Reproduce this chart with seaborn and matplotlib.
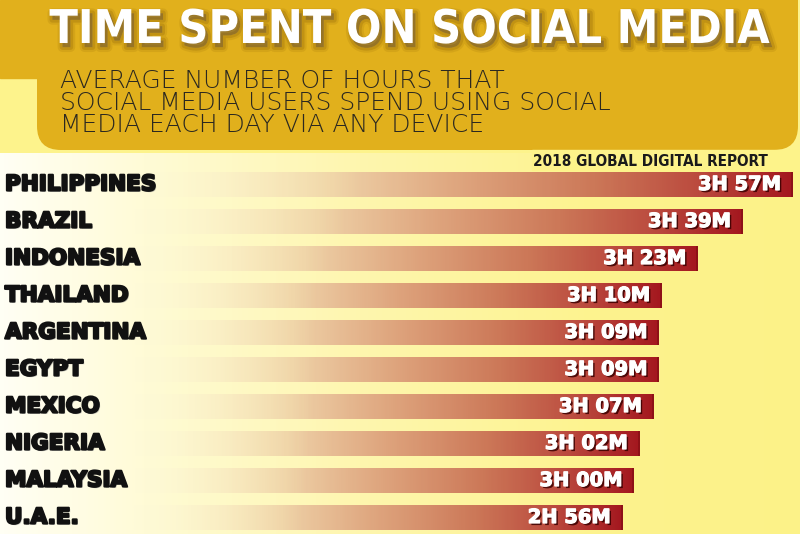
import numpy as np
import pandas as pd
import matplotlib
matplotlib.use("Agg")
import matplotlib.pyplot as plt
import seaborn as sns
from matplotlib import patheffects as pe
from matplotlib.patches import FancyBboxPatch, Rectangle
from matplotlib.colors import LinearSegmentedColormap
import matplotlib.transforms as mtransforms
from matplotlib import font_manager as fm

# ---------------- data ----------------
countries = ["PHILIPPINES", "BRAZIL", "INDONESIA", "THAILAND", "ARGENTINA",
             "EGYPT", "MEXICO", "NIGERIA", "MALAYSIA", "U.A.E."]
hours = [3, 3, 3, 3, 3, 3, 3, 3, 3, 2]
minutes = [57, 39, 23, 10, 9, 9, 7, 2, 0, 56]
title = "TIME SPENT ON SOCIAL MEDIA"
subtitle_lines = ["AVERAGE NUMBER OF HOURS THAT",
                  "SOCIAL MEDIA USERS SPEND USING SOCIAL",
                  "MEDIA EACH DAY VIA ANY DEVICE"]
source = "2018 GLOBAL DIGITAL REPORT"

total = [h * 60 + m for h, m in zip(hours, minutes)]
labels = [f"{h}H {m:02d}M" for h, m in zip(hours, minutes)]
df = pd.DataFrame({"country": countries, "minutes": total, "label": labels})

# ---------------- style ----------------
sns.set_theme(style="white")
plt.rcParams["font.family"] = ["DejaVu Sans"]

entries = fm.fontManager.ttflist
names = {f.name for f in entries}
has_narrow = "Liberation Sans Narrow" in names
has_dv_cond = any(f.name == "DejaVu Sans" and f.stretch == "condensed" for f in entries)

if has_narrow:
    cond_font = dict(family="Liberation Sans Narrow")
    title_size = 38
    src_size = 12
elif has_dv_cond:
    cond_font = dict(family="DejaVu Sans", stretch="condensed")
    title_size = 33.5
    src_size = 11
else:
    cond_font = dict(family="DejaVu Sans")
    title_size = 30
    src_size = 10

W, H = 800, 534
fig = plt.figure(figsize=(8, 5.34), dpi=100)

# ---------------- background axes (pixel coords) ----------------
bg = fig.add_axes([0, 0, 1, 1], zorder=0)
bg.set_xlim(0, W)
bg.set_ylim(H, 0)
bg.axis("off")

bg.add_patch(Rectangle((0, 0), W, H, color="#fdf38c", zorder=0))
grad_cmap = LinearSegmentedColormap.from_list(
    "bgx", [(0.0, "#fffff4"), (0.18, "#fffbd6"), (0.45, "#fef6ae"),
            (0.75, "#fdf38e"), (1.0, "#fcf288")])
gx = np.linspace(0, 1, 400).reshape(1, -1)
bg.imshow(gx, cmap=grad_cmap, extent=[0, W, H, 153], aspect="auto", zorder=1)

gold = "#e1b01c"
bg.add_patch(Rectangle((0, 0), 60, 78, color=gold, zorder=2))
bg.add_patch(FancyBboxPatch((37, -40), 761, 190,
                            boxstyle="round,pad=0,rounding_size=24",
                            facecolor=gold, edgecolor="none", zorder=2))
bg.add_patch(Rectangle((532, 150), 268, 20, color="#fdf38a", zorder=2))

bg.text(410, 30.5, title, ha="center", va="center", color="white",
        fontsize=title_size, fontweight="bold", zorder=5,
        path_effects=[pe.Stroke(linewidth=7, foreground="#7a5200", alpha=0.12, offset=(2, -3)),
                      pe.Stroke(linewidth=4, foreground="#6b4500", alpha=0.18, offset=(2, -3)),
                      pe.withSimplePatchShadow(offset=(2, -3), shadow_rgbFace="#5a3a00", alpha=0.45)],
        **cond_font)

for i, line in enumerate(subtitle_lines):
    bg.text(60, 87.5 + i * 22.5, line, ha="left", va="baseline", color="#2b2820",
            fontsize=18, fontweight="light", zorder=5)

bg.text(768, 161, source, ha="right", va="center", color="#1a1a1a",
        fontsize=src_size, fontweight="bold", zorder=5, **cond_font)

# ---------------- bar axes ----------------
k = 2.787          # px per minute
x0px = 131.5       # pixel of zero minutes
row0, step = 184.5, 37.0
ax = fig.add_axes([0, 0, 1, 1], zorder=1)
ax.patch.set_alpha(0)

sns.barplot(data=df, x="minutes", y="country", orient="h", ax=ax,
            width=0.68, color="#c0604a", saturation=1)
ax.set_xlim(-x0px / k, (W - x0px) / k)
ax.set_ylim((H - row0) / step, -row0 / step)
ax.axis("off")

bar_cmap = LinearSegmentedColormap.from_list(
    "bar", [(0.0, "#fffbe0"), (0.08, "#fbf0d2"), (0.3, "#efd2a8"),
            (0.5, "#dea47d"), (0.7, "#cc7858"), (0.86, "#bb4a3e"),
            (1.0, "#a4181f")])
alpha_ramp = np.clip(np.linspace(0, 1, 300) / 0.35, 0, 1)

for patch in ax.patches:
    x_, y_ = patch.get_x(), patch.get_y()
    w_, h_ = patch.get_width(), patch.get_height()
    t = np.linspace(0, 1, 300)
    rgba = bar_cmap(t)
    rgba[:, 3] = alpha_ramp
    img = ax.imshow(rgba.reshape(1, -1, 4), extent=[x_, x_ + w_, y_ + h_, y_],
                    aspect="auto", interpolation="bilinear", zorder=2)
    img.set_clip_path(patch)
    patch.set_facecolor("none")
    patch.set_edgecolor("none")
    ax.plot([x_ + w_, x_ + w_], [y_, y_ + h_], color="#8a1016", lw=1.2, zorder=3,
            solid_capstyle="butt")

ax.set_xlim(-x0px / k, (W - x0px) / k)
ax.set_ylim((H - row0) / step, -row0 / step)

trans = mtransforms.blended_transform_factory(ax.transAxes, ax.transData)
for i, row in df.iterrows():
    ax.text(5 / W, i, row["country"], transform=trans, ha="left", va="center",
            color="#111111", fontsize=15.5, fontweight="bold", zorder=6,
            path_effects=[pe.withSimplePatchShadow(offset=(1, -1), shadow_rgbFace="#888888", alpha=0.5),
                          pe.Stroke(linewidth=1.6, foreground="#111111"), pe.Normal()])
    ax.text(row["minutes"] - 11 / k, i, row["label"], ha="right", va="center",
            color="white", fontsize=14, fontweight="bold", zorder=6,
            path_effects=[pe.withSimplePatchShadow(offset=(1.5, -1.5), shadow_rgbFace="#3a0000", alpha=0.85),
                          pe.Stroke(linewidth=0.9, foreground="white"), pe.Normal()])

fig.savefig("out.png", dpi=100)
